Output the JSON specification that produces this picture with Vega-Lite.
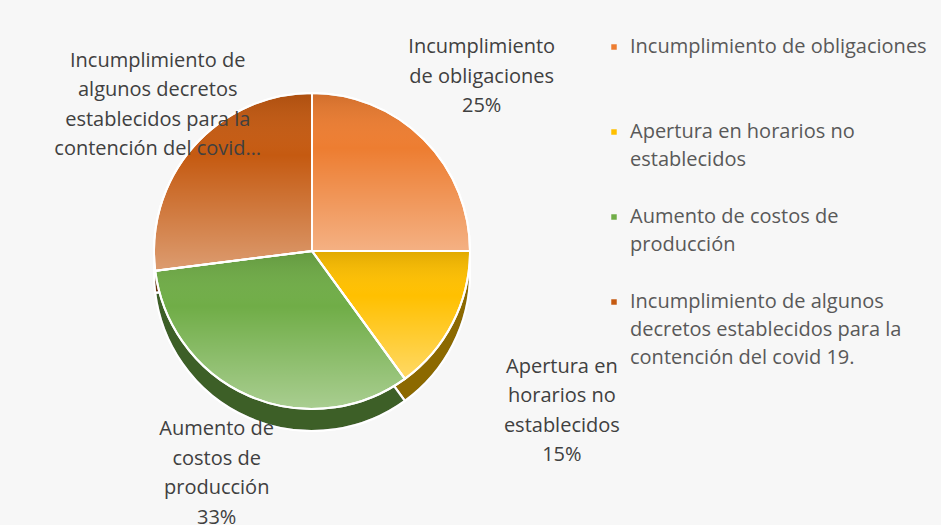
{
  "$schema": "https://vega.github.io/schema/vega-lite/v6.json",
  "width": 608,
  "height": 472,
  "padding": {"left": 8, "top": 14, "right": 16, "bottom": 0},
  "autosize": {"type": "pad"},
  "background": "#F7F7F7",
  "config": {
    "view": {"stroke": null},
    "font": "Open Sans",
    "style": {"guide-label": {"lineHeight": 28}}
  },
  "data": {
    "values": [
      {"categoria": "Incumplimiento de obligaciones|", "etiqueta": "Incumplimiento|de obligaciones|25%", "porcentaje": 25, "orden": 1},
      {"categoria": "Apertura en horarios no|establecidos", "etiqueta": "Apertura en|horarios no|establecidos|15%", "porcentaje": 15, "orden": 2},
      {"categoria": "Aumento de costos de|producción", "etiqueta": "Aumento de|costos de|producción|33%", "porcentaje": 33, "orden": 3},
      {"categoria": "Incumplimiento de algunos|decretos establecidos para la|contención del covid 19.", "etiqueta": "Incumplimiento de|algunos decretos|establecidos para la|contención del covid…", "porcentaje": 27, "orden": 4}
    ]
  },
  "encoding": {
    "theta": {"field": "porcentaje", "type": "quantitative", "stack": true},
    "order": {"field": "orden", "type": "quantitative"}
  },
  "layer": [
    {
      "mark": {"type": "arc", "outerRadius": 158, "yOffset": 22, "stroke": "white", "strokeWidth": 2},
      "encoding": {
        "color": {
          "field": "categoria",
          "type": "nominal",
          "sort": {"field": "orden"},
          "scale": {
            "domain": [
              "Incumplimiento de obligaciones|",
              "Apertura en horarios no|establecidos",
              "Aumento de costos de|producción",
              "Incumplimiento de algunos|decretos establecidos para la|contención del covid 19."
            ],
            "range": ["#ED7D31", "#FFC000", "#70AD47", "#C55A11"]
          },
          "legend": {
            "title": null,
            "orient": "none",
            "legendX": 596,
            "legendY": 22,
            "symbolType": "square",
            "symbolSize": 30,
            "symbolStrokeWidth": 0,
            "symbolOpacity": 1,
            "labelExpr": "split(datum.label, '|')",
            "labelFont": "Open Sans",
            "labelFontSize": 20,
            "labelColor": "#595959",
            "labelBaseline": "middle",
            "labelLimit": 400,
            "labelOffset": 6,
            "rowPadding": 37,
            "padding": 0,
            "encode": {"labels": {"enter": {"lineHeight": {"value": 28}}, "update": {"lineHeight": {"value": 28}}}}
          }
        }
      }
    },
    {
      "mark": {"type": "arc", "outerRadius": 158, "yOffset": 22, "fill": "#000000", "fillOpacity": 0.45, "stroke": "white", "strokeWidth": 2}
    },
    {
      "mark": {"type": "arc", "outerRadius": 158, "stroke": "white", "strokeWidth": 2},
      "encoding": {
        "color": {"field": "categoria", "type": "nominal", "sort": {"field": "orden"}}
      }
    },
    {
      "mark": {
        "type": "arc",
        "outerRadius": 158,
        "stroke": "white",
        "strokeWidth": 2,
        "fill": {
          "gradient": "linear",
          "x1": 0, "y1": 0, "x2": 0, "y2": 1,
          "stops": [
            {"offset": 0, "color": "rgba(0,0,0,0.12)"},
            {"offset": 0.35, "color": "rgba(255,255,255,0)"},
            {"offset": 1, "color": "rgba(255,255,255,0.4)"}
          ]
        }
      }
    },
    {
      "mark": {"type": "text", "radius": 240, "dy": -34, "fontSize": 20, "color": "#404040", "lineBreak": "|", "lineHeight": 29.5, "font": "Open Sans"},
      "encoding": {"text": {"condition": {"test": "datum.orden == 1", "field": "etiqueta"}, "value": ""}}
    },
    {
      "mark": {"type": "text", "radius": 295, "dx": -13, "dy": -18, "fontSize": 20, "color": "#404040", "lineBreak": "|", "lineHeight": 29.5, "font": "Open Sans"},
      "encoding": {"text": {"condition": {"test": "datum.orden == 2", "field": "etiqueta"}, "value": ""}}
    },
    {
      "mark": {"type": "text", "radius": 240, "dy": -42, "fontSize": 20, "color": "#404040", "lineBreak": "|", "lineHeight": 29.5, "font": "Open Sans"},
      "encoding": {"text": {"condition": {"test": "datum.orden == 3", "field": "etiqueta"}, "value": ""}}
    },
    {
      "mark": {"type": "text", "radius": 215, "dx": 7, "dy": -48, "fontSize": 20, "color": "#404040", "lineBreak": "|", "lineHeight": 29.5, "font": "Open Sans"},
      "encoding": {"text": {"condition": {"test": "datum.orden == 4", "field": "etiqueta"}, "value": ""}}
    }
  ]
}
